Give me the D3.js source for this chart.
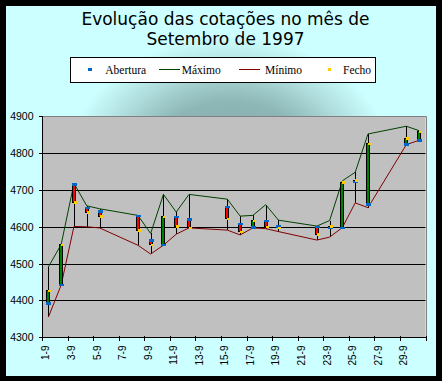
<!DOCTYPE html>
<html><head><meta charset="utf-8">
<script src="https://cdn.jsdelivr.net/npm/d3@7"></script>
<style>body{margin:0;background:#000}svg{display:block}</style>
</head><body>
<script>
const days  = [1,2,3,4,5,8,9,10,11,12,15,16,17,18,19,22,23,24,25,26,29,30];
const openV = [4393,4443,4716,4652,4642,4630,4564,4551,4627,4621,4654,4608,4599,4617,4601,4600,4597,4598,4722,4661,4824,4835];
const highV = [4491,4552,4718,4657,4649,4631,4582,4688,4640,4688,4675,4629,4631,4660,4618,4602,4617,4725,4748,4852,4873,4861];
const lowV  = [4355,4442,4601,4600,4597,4550,4526,4550,4580,4597,4591,4578,4597,4595,4587,4564,4572,4598,4665,4652,4823,4835];
const closeV= [4427,4551,4667,4639,4629,4591,4551,4627,4601,4598,4622,4587,4617,4600,4597,4580,4601,4721,4727,4826,4840,4858];
const yTicks = [4300,4400,4500,4600,4700,4800,4900];
const xLabelDays = [1,3,5,7,9,11,13,15,17,19,21,23,25,27,29];
const legendItems = ["Abertura","Máximo","Mínimo","Fecho"];
const titleLines = ["Evolução das cotações no mês de","Setembro de 1997"];

const W=442,H=381;
const svg=d3.select("body").append("svg").attr("width",W).attr("height",H);
const defs=svg.append("defs");
const rg=defs.append("radialGradient").attr("id","bg").attr("cx",0.52).attr("cy",0.47).attr("r",0.5);
[[0,"#7ea3a3"],[0.42,"#8db6b6"],[0.6,"#afdcdc"],[0.78,"#ccffff"],[1,"#ccffff"]]
  .forEach(([o,c])=>rg.append("stop").attr("offset",o).attr("stop-color",c));
svg.append("rect").attr("width",W).attr("height",H).attr("fill","#000");
svg.append("rect").attr("x",6).attr("y",6).attr("width",430).attr("height",370).attr("fill","url(#bg)");

// title
svg.append("g").selectAll("text").data(titleLines).join("text")
  .attr("x",225.5).attr("y",(d,i)=>25+i*19.5).attr("text-anchor","middle")
  .attr("font-family","DejaVu Sans").attr("font-size",17).attr("fill","#000").text(d=>d);

// legend
const lg=svg.append("g");
lg.append("rect").attr("x",70.5).attr("y",57.5).attr("width",305).attr("height",25)
  .attr("fill","#fff").attr("stroke","#000").attr("stroke-width",1);
lg.append("rect").attr("x",88).attr("y",68).attr("width",4).attr("height",3).attr("fill","#0066cc");
lg.append("line").attr("x1",159).attr("x2",180).attr("y1",69.5).attr("y2",69.5).attr("stroke","#004000");
lg.append("line").attr("x1",239).attr("x2",260).attr("y1",69.5).attr("y2",69.5).attr("stroke","#800000");
lg.append("rect").attr("x",328).attr("y",68).attr("width",3).attr("height",3).attr("fill","#ffcc00");
const lx=[105.3,181.7,265,343];
lg.selectAll("text.l").data(legendItems).join("text").attr("class","l")
  .attr("x",(d,i)=>lx[i]).attr("y",74).attr("font-family","Liberation Serif").attr("font-size",11.5)
  .attr("fill","#000").text(d=>d);

// scales
const x=d3.scaleLinear().domain([0.5,30.5]).range([42,425.5]);
const y=d3.scaleLinear().domain([4300,4900]).range([337.3,116.3]);
const L=42.5,R=425.5,T=116.3,B=337.3;

svg.append("rect").attr("x",L).attr("y",T).attr("width",R-L).attr("height",B-T).attr("fill","#c0c0c0");
// gridlines
svg.append("g").selectAll("line").data(yTicks.filter(v=>v>4300&&v<4900)).join("line")
  .attr("x1",L).attr("x2",R).attr("y1",d=>Math.round(y(d))+0.5).attr("y2",d=>Math.round(y(d))+0.5)
  .attr("stroke","#000").attr("stroke-width",1);
// plot border top/right
svg.append("path").attr("d",`M${L},${Math.round(T)+0.5}H${Math.round(R)+0.5}V${B}`).attr("fill","none").attr("stroke","#808080");

// y axis
const ya=svg.append("g").attr("transform",`translate(${L},0)`)
  .call(d3.axisLeft(y).tickValues(yTicks).tickSize(4).tickPadding(5).tickFormat(d3.format("d")));
ya.select(".domain").remove();
ya.selectAll("line").attr("stroke","#000").attr("shape-rendering","crispEdges");
ya.selectAll("text").attr("font-family","Liberation Sans").attr("font-size",10.5).attr("fill","#000");
svg.append("line").attr("x1",L).attr("x2",L).attr("y1",T).attr("y2",B).attr("stroke","#000").attr("shape-rendering","crispEdges");

// x axis
const xt=d3.range(0.5,31,2);
const xa=svg.append("g").attr("transform",`translate(0,${B})`)
  .call(d3.axisBottom(x).tickValues(xt).tickSize(4).tickFormat(""));
xa.select(".domain").remove();
xa.selectAll("line").attr("stroke","#000").attr("y1",-1).attr("shape-rendering","crispEdges");
svg.append("line").attr("x1",L).attr("x2",R).attr("y1",B).attr("y2",B).attr("stroke","#000").attr("shape-rendering","crispEdges");
svg.append("g").selectAll("text").data(xLabelDays).join("text")
  .attr("transform",d=>`translate(${x(d)-2.5},345.5) rotate(-90)`)
  .attr("text-anchor","end").attr("dy","0.35em")
  .attr("font-family","Liberation Sans").attr("font-size",10).attr("fill","#000")
  .text(d=>d+"-9");

const data=days.map((d,i)=>({d,o:openV[i],h:highV[i],l:lowV[i],c:closeV[i]}));
const line=(k)=>d3.line().x(p=>x(p.d)).y(p=>y(p[k]));
// high-low vertical lines
svg.append("g").selectAll("line").data(data).join("line")
  .attr("x1",p=>Math.round(x(p.d))+0.5).attr("x2",p=>Math.round(x(p.d))+0.5)
  .attr("y1",p=>y(p.h)).attr("y2",p=>y(p.l)).attr("stroke","#000").attr("shape-rendering","crispEdges");
svg.append("path").datum(data).attr("d",line("h")).attr("fill","none").attr("stroke","#004000").attr("stroke-width",1);
svg.append("path").datum(data).attr("d",line("l")).attr("fill","none").attr("stroke","#800000").attr("stroke-width",1);
// up-down bars
svg.append("g").selectAll("rect").data(data).join("rect")
  .attr("x",p=>Math.round(x(p.d))-1.5).attr("width",3)
  .attr("y",p=>y(Math.max(p.o,p.c))).attr("height",p=>Math.max(1,Math.abs(y(p.o)-y(p.c))))
  .attr("fill",p=>p.c>=p.o?"#008000":"#ff0000").attr("stroke","#000").attr("stroke-width",1)
  .attr("shape-rendering","crispEdges");
// markers
svg.append("g").selectAll("rect").data(data).join("rect")
  .attr("x",p=>Math.round(x(p.d))-2).attr("width",5).attr("y",p=>y(p.o)-1).attr("height",2.5)
  .attr("fill","#0066cc").attr("shape-rendering","crispEdges");
svg.append("g").selectAll("rect").data(data).join("rect")
  .attr("x",p=>Math.round(x(p.d))).attr("width",3).attr("y",p=>y(p.c)-1).attr("height",2.5)
  .attr("fill","#ffcc00").attr("shape-rendering","crispEdges");
</script>
</body></html>
